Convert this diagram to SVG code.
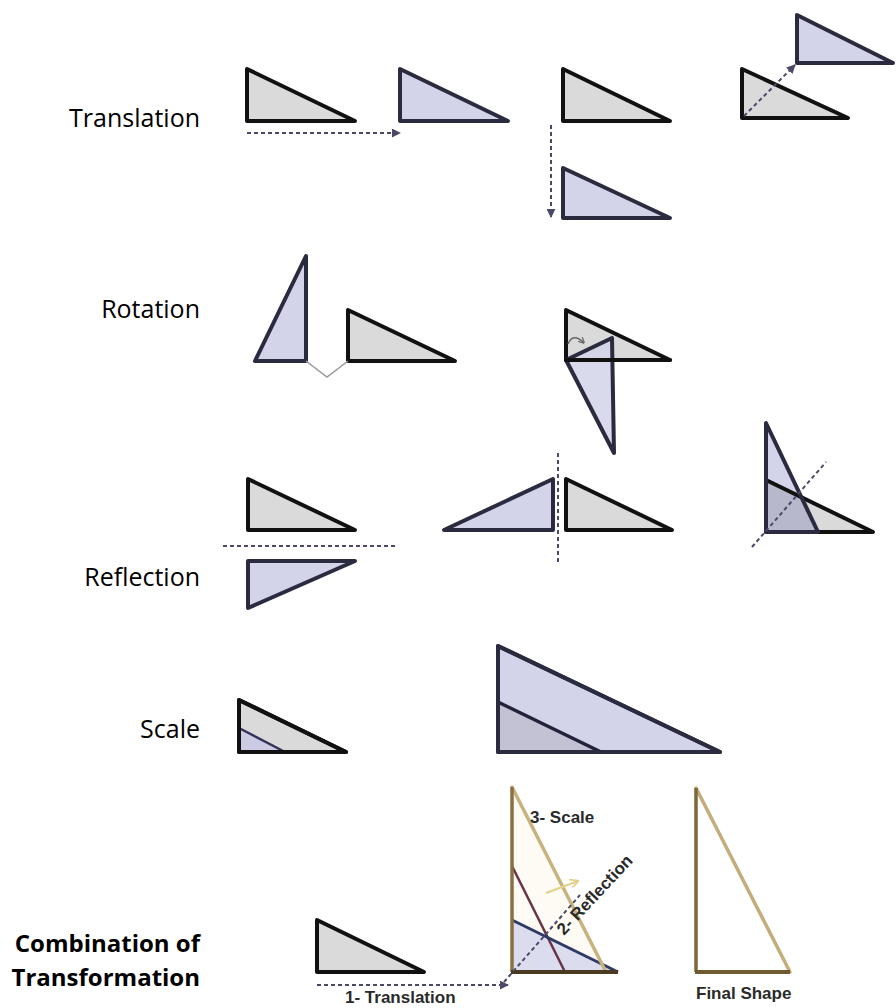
<svg xmlns="http://www.w3.org/2000/svg" width="896" height="1008" viewBox="0 0 896 1008">
<defs>
<style>
.g{fill:#dadada;stroke:#111;stroke-width:4;stroke-linejoin:round}
.b{fill:#d3d3ea;stroke:#2b2b40;stroke-width:4;stroke-linejoin:round}
.go{fill:none;stroke:#111;stroke-width:4;stroke-linejoin:round}
.bo{fill:none;stroke:#2b2b40;stroke-width:4;stroke-linejoin:round}
.ln{fill:none;stroke:#111;stroke-width:4;stroke-linecap:round}
.dash{fill:none;stroke:#4a4a68;stroke-width:2;stroke-dasharray:4 3}
.lbl{font-family:"Open Sans",sans-serif;font-size:25px;fill:#000;text-anchor:end}
.lblb{font-family:"Open Sans",sans-serif;font-size:24px;font-weight:bold;fill:#000;text-anchor:end}
.cap{font-family:"Liberation Sans",Arial,sans-serif;font-size:17px;font-weight:bold;fill:#2a2a2a}
</style>
<marker id="ah" viewBox="0 0 10 10" refX="9" refY="5" markerWidth="9" markerHeight="9" markerUnits="userSpaceOnUse" orient="auto">
<path d="M0,0 L10,5 L0,10 z" fill="#4a4a68"/>
</marker>
<marker id="ahy" viewBox="0 0 10 10" refX="9" refY="5" markerWidth="9" markerHeight="9" markerUnits="userSpaceOnUse" orient="auto">
<path d="M0,0 L10,5 L0,10" fill="none" stroke="#e2d08a" stroke-width="2"/>
</marker>
<marker id="ahs" viewBox="0 0 10 10" refX="9" refY="5" markerWidth="6" markerHeight="6" markerUnits="userSpaceOnUse" orient="auto">
<path d="M0,0 L10,5 L0,10" fill="none" stroke="#666" stroke-width="2"/>
</marker>
</defs>
<rect width="896" height="1008" fill="#fff"/>

<g id="labels">
<text class="lbl" x="200" y="127">Translation</text>
<text class="lbl" x="200" y="318">Rotation</text>
<text class="lbl" x="200" y="586">Reflection</text>
<text class="lbl" x="200" y="738">Scale</text>
<text class="lblb" x="200" y="952">Combination of</text>
<text class="lblb" x="200" y="986">Transformation</text>
</g>

<g id="translation">
<polygon class="g" points="247,69 247,121 355,121"/>
<polygon class="b" points="400,69 400,121 508,121"/>
<polygon class="g" points="563,69 563,121 670,121"/>
<polygon class="b" points="563,168 563,218 670,218"/>
<polygon class="g" points="742,69 742,118 848,118"/>
<polygon class="b" points="797,15 797,63 893,63"/>
</g>

<g id="rotation">
<polygon class="b" points="306,256 255,361 306,361"/>
<polygon class="g" points="348,310 348,361 455,361"/>
<polygon class="g" points="566,310 566,360 670,360"/>
<polygon class="b" points="566,360 612,338 614,453" fill-opacity="0.85"/>
<line class="ln" x1="566" y1="360" x2="670" y2="360" stroke-width="3"/>
<path d="M568,344 Q573,332 584,343" fill="none" stroke="#666" stroke-width="1.5" marker-end="url(#ahs)"/>
</g>

<g id="reflection">
<polygon class="g" points="248,479 248,530 355,530"/>
<polygon class="b" points="248,561 355,561 248,608"/>
<polygon class="b" points="444,530 553,479 553,530"/>
<polygon class="g" points="566,479 566,530 672,530"/>
<polygon points="766,480 766,532 873,532" fill="#dadada"/>
<polygon points="766,423 766,532 818,532" fill="#d3d3ea"/>
<polygon points="766,480 800,497 818,532 766,532" fill="#b8b8cc"/>
<polygon class="go" points="766,480 766,532 873,532"/>
<polygon class="bo" points="766,423 766,532 818,532" stroke-width="3.5"/>
</g>

<g id="scale">
<polygon class="g" points="239,700 239,752 346,752"/>
<polygon points="239,728 239,752 284,752" fill="#cbcbe4"/>
<line x1="239" y1="728" x2="285" y2="752" stroke="#33335a" stroke-width="2.5"/>
<polygon class="go" points="239,700 239,752 346,752"/>
<polygon class="b" points="498,646 498,752 720,752"/>
<polygon points="498,702 498,752 600,752" fill="#c2c2d4"/>
<line x1="498" y1="702" x2="601" y2="752" stroke="#22223a" stroke-width="3.5"/>
<polygon class="bo" points="498,646 498,752 720,752"/>
</g>

<g id="combination">
<polygon class="g" points="317,920 317,972 424,972"/>
<polygon points="512,787 512,972 606,972" fill="#fdfbf3"/>
<polygon points="512,920 512,972 618,972" fill="#dcdcef"/>
<line x1="512" y1="866" x2="565" y2="972" stroke="#6a3444" stroke-width="2.5"/>
<line x1="512" y1="920" x2="618" y2="972" stroke="#2e3a66" stroke-width="3"/>
<line x1="512" y1="787" x2="606" y2="972" stroke="#c8b27e" stroke-width="3.5" stroke-linecap="round"/>
<line x1="512" y1="787" x2="512" y2="972" stroke="#8a7040" stroke-width="3.5"/>
<line x1="511" y1="972" x2="618" y2="972" stroke="#4a3a22" stroke-width="4"/>
<line x1="546" y1="893" x2="578" y2="881" stroke="#e2d08a" stroke-width="2" marker-end="url(#ahy)"/>
<polygon points="696,788 696,972 790,972" fill="#fff"/>
<line x1="696" y1="788" x2="790" y2="972" stroke="#c4ad7a" stroke-width="3.5" stroke-linecap="round"/>
<line x1="696" y1="788" x2="696" y2="972" stroke="#7d6638" stroke-width="3.5"/>
<line x1="695" y1="972" x2="790" y2="972" stroke="#6f5a32" stroke-width="4"/>
<text class="cap" x="530" y="823">3- Scale</text>
<text class="cap" transform="rotate(-47 564 936)" x="564" y="936">2- Reflection</text>
<text class="cap" x="345" y="1003">1- Translation</text>
<text class="cap" x="696" y="999">Final Shape</text>
</g>

<g id="connectors">
<line class="dash" x1="247" y1="133" x2="400" y2="133" marker-end="url(#ah)"/>
<line class="dash" x1="551" y1="125" x2="551" y2="217" marker-end="url(#ah)"/>
<line class="dash" x1="744" y1="116" x2="795" y2="65" marker-end="url(#ah)"/>
<polyline points="306,361 327,377 348,361" fill="none" stroke="#999" stroke-width="1.5"/>
<line class="dash" x1="223" y1="546" x2="396" y2="546"/>
<line class="dash" x1="558" y1="453" x2="558" y2="563"/>
<line class="dash" x1="752" y1="547" x2="826" y2="462"/>
<line class="dash" x1="317" y1="985" x2="508" y2="985" marker-end="url(#ah)"/>
<line class="dash" x1="504" y1="982" x2="580" y2="895" stroke="#6a6a88"/>
</g>
</svg>
